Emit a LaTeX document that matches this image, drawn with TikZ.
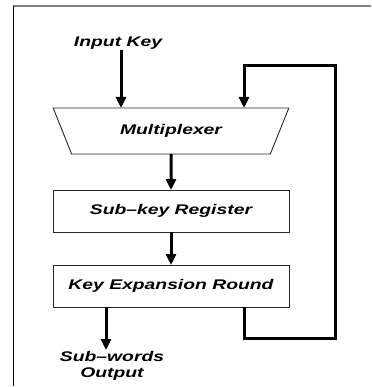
\documentclass[tikz,border=0pt]{standalone}
\usepackage{fontspec}
\newfontfamily\blkfont[FakeStretch=1.38]{Liberation Sans}
\usetikzlibrary{arrows.meta,positioning,shapes.geometric}
\tikzset{
  font=\fontsize{14pt}{16pt}\blkfont\bfseries\itshape,
  blk/.style   ={draw=black!85, line width=0.9pt, fill=white, minimum height=42pt, minimum width=236pt, inner sep=0pt, outer sep=0pt, align=center},
  mux/.style   ={draw=black!85, line width=0.9pt, fill=white, trapezium, shape border rotate=180, trapezium angle=54, trapezium stretches=true, minimum height=46pt, minimum width=236pt, inner sep=0pt, outer sep=0pt},
  lbl/.style   ={inner sep=1pt, align=center},
  arr/.style   ={-{Triangle[width=10pt,length=11pt]}, line width=3pt},
  fb/.style    ={-{Triangle[width=10pt,length=11pt]}, line width=3pt, rounded corners=0pt},
}

\begin{document}
\begin{tikzpicture}[x=1pt, y=-1pt]
  \useasboundingbox (0,0) rectangle (371,387);
  % frame
  \draw[black!50, line width=1.6pt] (13,6) -- (371,6);
  \draw[black, line width=0.8pt] (13,6) -- (13,386);

  \node[mux] (mux) at (171,131) {Multiplexer};
  \node[blk] (reg) at (171,211) {Sub\textendash key Register};
  \node[blk] (ker) at (171,286) {Key Expansion Round};

  \node[lbl] (inkey) at (118,43) {Input Key};
  \node[lbl, anchor=north] (out) at (112,350) {Sub\textendash words\\Output};

  \coordinate (inx) at (121,0);
  \coordinate (fbtop) at (244,66);
  \coordinate (fbcorner) at (335,338);

  \draw[arr] (inkey.south -| inx) -- (mux.north -| inx);
  \draw[arr] (mux.south) -- (reg.north);
  \draw[arr] (reg.south) -- (ker.north);
  \draw[arr] ([xshift=-65pt]ker.south) -- ([xshift=-6pt]out.north);
  % feedback loop round the right side
  \draw[fb] (ker.south -| fbtop) |- (fbcorner) |- (fbtop) -- (mux.north -| fbtop);
\end{tikzpicture}
\end{document}
